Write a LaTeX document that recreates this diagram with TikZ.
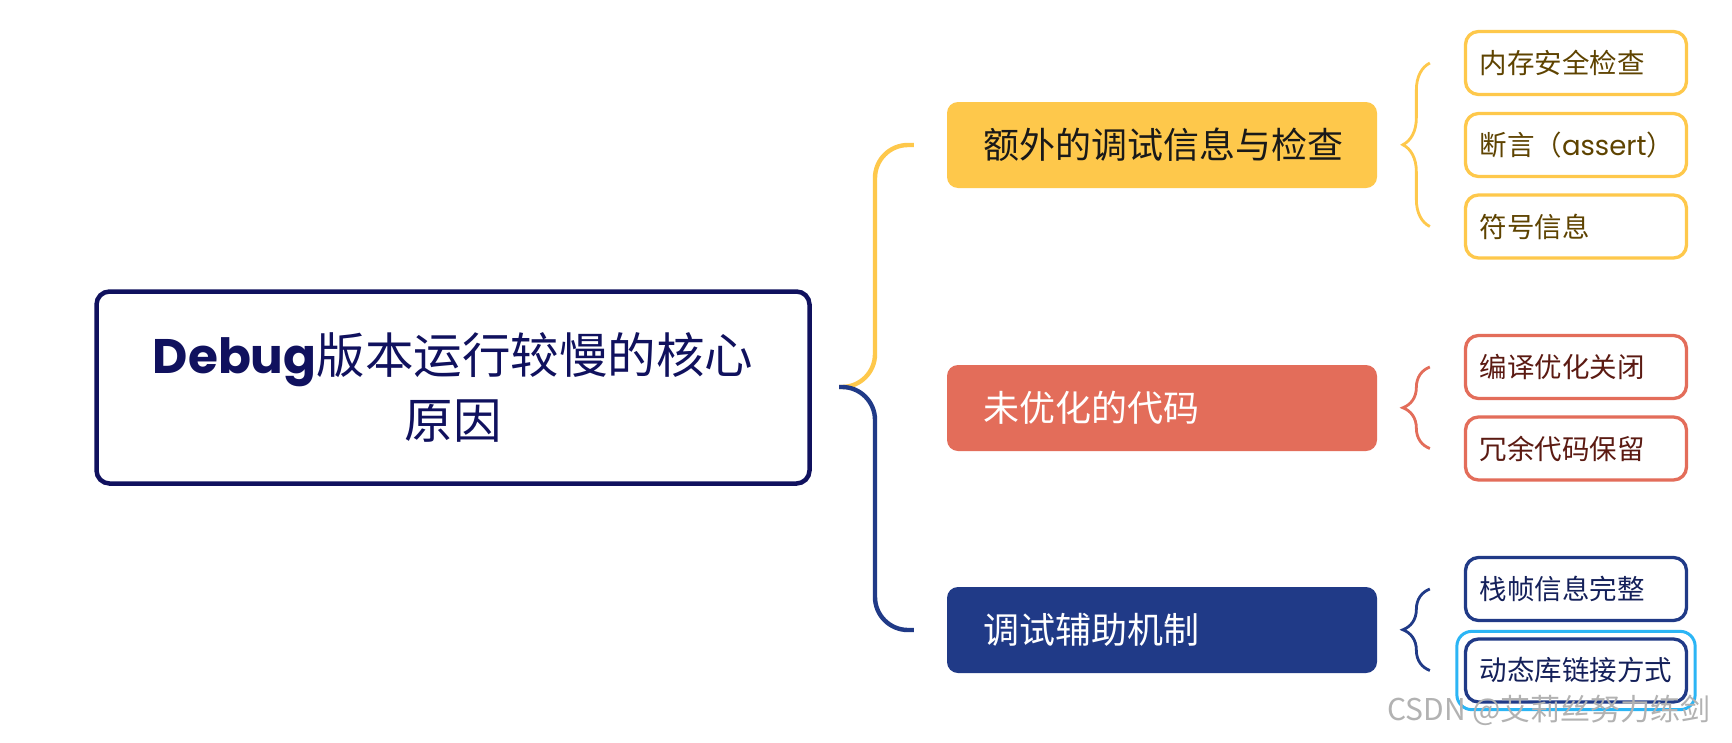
\documentclass[tikz,border=0pt]{standalone}
\usepackage{fontspec}
\setmainfont{Noto Sans CJK SC}
\newfontfamily\latinfont{Poppins}
\usetikzlibrary{decorations.pathreplacing}

\definecolor{rootnavy}{HTML}{10115E}
\definecolor{ylw}{HTML}{FEC84B}
\definecolor{coral}{HTML}{E36D5A}
\definecolor{navy}{HTML}{203A87}
\definecolor{ylwtext}{HTML}{5E4300}
\definecolor{coraltext}{HTML}{5B1A12}
\definecolor{navytext}{HTML}{14205A}
\definecolor{selblue}{HTML}{2BB5F5}

\tikzset{
  rootbox/.style={draw=rootnavy, line width=4.5pt, rounded corners=13pt, fill=white,
    minimum width=713pt, minimum height=192pt, align=center, text=rootnavy,
    font=\fontsize{48.5}{65}\selectfont},
  midbox/.style={rounded corners=11pt, minimum height=86pt, text width=358pt,
    inner xsep=36pt, align=left, font=\fontsize{36}{40}\selectfont},
  leafbox/.style={fill=white, line width=3.3pt, rounded corners=13pt, minimum height=63pt,
    text width=193pt, inner xsep=14pt, align=left, font=\fontsize{27.5}{32}\selectfont},
  link/.style={line width=4.4pt, rounded corners=33pt},
  curly/.style={line width=2.8pt, decorate, decoration={brace, amplitude=27pt}},
  wmark/.style={text=gray!60, font=\fontsize{30}{34}\selectfont},
}

\begin{document}
\begin{tikzpicture}[x=1pt, y=-1pt]
    \fill[white] (0,0) rectangle (1732,742);
    \useasboundingbox (0,0) rectangle (1732,742);

    % root
    \node[rootbox] (root) at (453,387.5) {{\latinfont\bfseries Debug}版本运行较慢的核心\\原因};
    \coordinate (jn) at (839,387);

    % branches
    \node[midbox, fill=ylw, text=black!90] (extra) at (1162,145) {额外的调试信息与检查};
    \node[midbox, fill=coral, text=white] (noopt) at (1162,408) {未优化的代码};
    \node[midbox, fill=navy, text=white] (dbgaid) at (1162,630) {调试辅助机制};

    % leaves
    \node[leafbox, draw=ylw, text=ylwtext] (memchk) at (1576,63) {内存安全检查};
    \node[leafbox, draw=ylw, text=ylwtext] (assert) at (1576,145) {断言（{\latinfont assert}）};
    \node[leafbox, draw=ylw, text=ylwtext] (symbol) at (1576,226.5) {符号信息};
    \node[leafbox, draw=coral, text=coraltext] (optoff) at (1576,367) {编译优化关闭};
    \node[leafbox, draw=coral, text=coraltext] (redund) at (1576,448.5) {冗余代码保留};
    \node[leafbox, draw=navy, text=navytext] (frame) at (1576,589) {栈帧信息完整};
    \node[leafbox, draw=navy, text=navytext] (dynlib) at (1576,670.5) {动态库链接方式};
    \draw[selblue, line width=3pt, rounded corners=15pt]
        ([shift={(-7,-6)}]dynlib.north west) rectangle ([shift={(7,6)}]dynlib.south east);

    % connectors
    \draw[link, ylw] (jn) -- ++(36,0) |- ([xshift=-33pt]extra.west);
    \draw[link, navy] (jn) -- ++(36,0) |- ([xshift=-33pt]dbgaid.west);

    \draw[curly, ylw] ([xshift=-34pt]symbol.west) -- ([xshift=-34pt]memchk.west);
    \draw[curly, coral] ([xshift=-34pt]redund.west) -- ([xshift=-34pt]optoff.west);
    \draw[curly, navy] ([xshift=-34pt]dynlib.west) -- ([xshift=-34pt]frame.west);

    \node[wmark] (wm) at (1549,710) {CSDN @艾莉丝努力练剑};
\end{tikzpicture}
\end{document}
